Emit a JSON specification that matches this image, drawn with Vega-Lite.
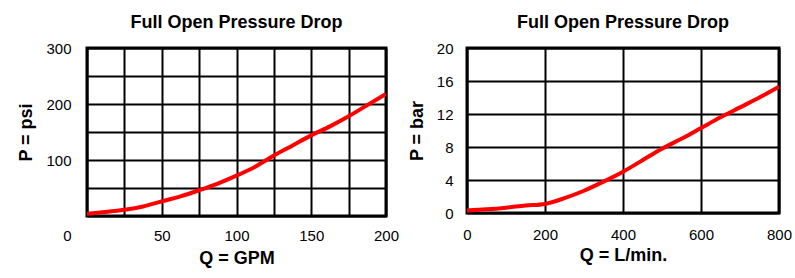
{
  "$schema": "https://vega.github.io/schema/vega-lite/v6.json",
  "background": "white",
  "padding": {"left": 16, "top": 12, "right": 5, "bottom": 5},
  "spacing": 5,
  "config": {
    "font": "Liberation Sans",
    "view": {"stroke": "black", "strokeWidth": 3},
    "title": {"font": "Liberation Sans", "fontSize": 18, "fontWeight": "bold", "color": "black", "offset": 9},
    "axis": {
      "domain": false, "ticks": false,
      "gridColor": "black", "gridWidth": 2, "gridOpacity": 1,
      "labelFont": "Liberation Sans", "labelFontSize": 15, "labelColor": "black",
      "titleFont": "Liberation Sans", "titleFontSize": 18, "titleFontWeight": "bold", "titleColor": "black"
    }
  },
  "hconcat": [
    {
      "width": 299, "height": 168,
      "title": "Full Open Pressure Drop",
      "data": {"values": [
        {"q": 0, "p": 4}, {"q": 12.5, "p": 7}, {"q": 25, "p": 11}, {"q": 37.5, "p": 17},
        {"q": 50, "p": 26}, {"q": 62.5, "p": 35}, {"q": 75, "p": 46}, {"q": 87.5, "p": 58},
        {"q": 100, "p": 72}, {"q": 112.5, "p": 88}, {"q": 120, "p": 100}, {"q": 125, "p": 108},
        {"q": 137.5, "p": 126}, {"q": 150, "p": 144}, {"q": 162.5, "p": 160}, {"q": 175, "p": 178},
        {"q": 187.5, "p": 198}, {"q": 200, "p": 218}
      ]},
      "mark": {"type": "line", "color": "#ff0000", "strokeWidth": 4, "interpolate": "monotone", "clip": true},
      "encoding": {
        "x": {"field": "q", "type": "quantitative", "scale": {"domain": [0, 200], "nice": false},
          "axis": {"title": "Q = GPM", "values": [0, 25, 50, 75, 100, 125, 150, 175, 200],
            "labelExpr": "datum.value % 50 == 0 ? datum.label : ''",
            "labelOffset": {"condition": {"test": "datum.value == 0", "value": -20}, "value": 0},
            "labelPadding": 12, "titlePadding": 6, "labelFlush": false}},
        "y": {"field": "p", "type": "quantitative", "scale": {"domain": [0, 300], "nice": false},
          "axis": {"title": "P = psi", "values": [0, 50, 100, 150, 200, 250, 300],
            "labelExpr": "datum.value % 100 == 0 && datum.value > 0 ? datum.label : ''",
            "labelPadding": 16, "titlePadding": 10, "labelFlush": false}}
      }
    },
    {
      "width": 312, "height": 165,
      "title": "Full Open Pressure Drop",
      "data": {"values": [
        {"q": 0, "p": 0.3}, {"q": 50, "p": 0.45}, {"q": 100, "p": 0.65}, {"q": 150, "p": 0.9},
        {"q": 200, "p": 1.1}, {"q": 250, "p": 1.8}, {"q": 300, "p": 2.7}, {"q": 350, "p": 3.8},
        {"q": 400, "p": 5.0}, {"q": 450, "p": 6.4}, {"q": 500, "p": 7.8}, {"q": 550, "p": 9.0},
        {"q": 600, "p": 10.3}, {"q": 650, "p": 11.6}, {"q": 700, "p": 12.8}, {"q": 750, "p": 14.0},
        {"q": 800, "p": 15.3}
      ]},
      "mark": {"type": "line", "color": "#ff0000", "strokeWidth": 4, "interpolate": "monotone", "clip": true},
      "encoding": {
        "x": {"field": "q", "type": "quantitative", "scale": {"domain": [0, 800], "nice": false},
          "axis": {"title": "Q = L/min.", "values": [0, 200, 400, 600, 800],
            "labelPadding": 14, "titlePadding": 4, "labelFlush": false}},
        "y": {"field": "p", "type": "quantitative", "scale": {"domain": [0, 20], "nice": false},
          "axis": {"title": "P = bar", "values": [0, 4, 8, 12, 16, 20],
            "labelPadding": 14, "titlePadding": 10, "labelFlush": false}}
      }
    }
  ]
}
